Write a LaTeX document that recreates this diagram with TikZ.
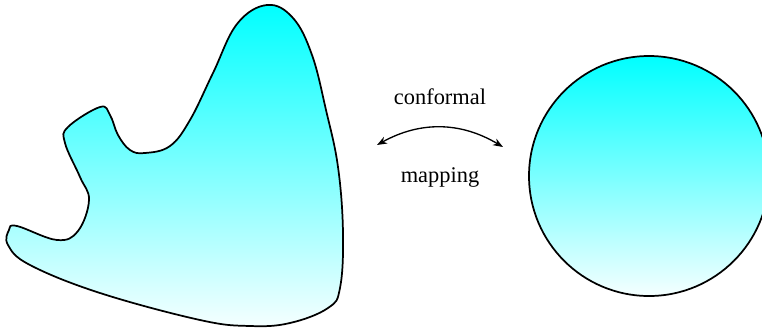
\documentclass[tikz,border=0pt]{standalone}
\usepackage{fontspec}
\setmainfont{Liberation Serif}
\usetikzlibrary{arrows.meta}

\begin{document}
\begin{tikzpicture}[x=0.75pt,y=-0.75pt,>=Stealth]
\useasboundingbox (0,0) rectangle (762,329);
\tikzset{region/.style={line width=1.3pt,top color=cyan,bottom color=cyan!4},
  lbl/.style={font=\fontsize{16.8}{20}\selectfont}}
\coordinate (Ctr) at (649,176);
\coordinate (L) at (377,145);
\coordinate (Rt) at (503,147);
\shadedraw[region] plot[smooth cycle,tension=0.65] coordinates {(267,5) (293,18) (312,55) (326,110) (338,167) (343,233) (340,288) (328,308) (290,323) (250,326) (200,320) (100,293) (30,265) (8,245) (9,230) (17,226) (57,240) (78,231) (89,200) (80,177) (65,143) (68,127) (100,107) (110,115) (118,135) (130,150) (145,153) (170,146) (190,120) (213,73) (237,24)};
\shadedraw[region] (Ctr) circle (90pt);
\draw[<->,line width=1pt] (L) to[bend left=30] (Rt);
\node[lbl] (conf) at (440,97) {conformal};
\node[lbl] (map) at (440,177) {mapping};
\end{tikzpicture}
\end{document}
